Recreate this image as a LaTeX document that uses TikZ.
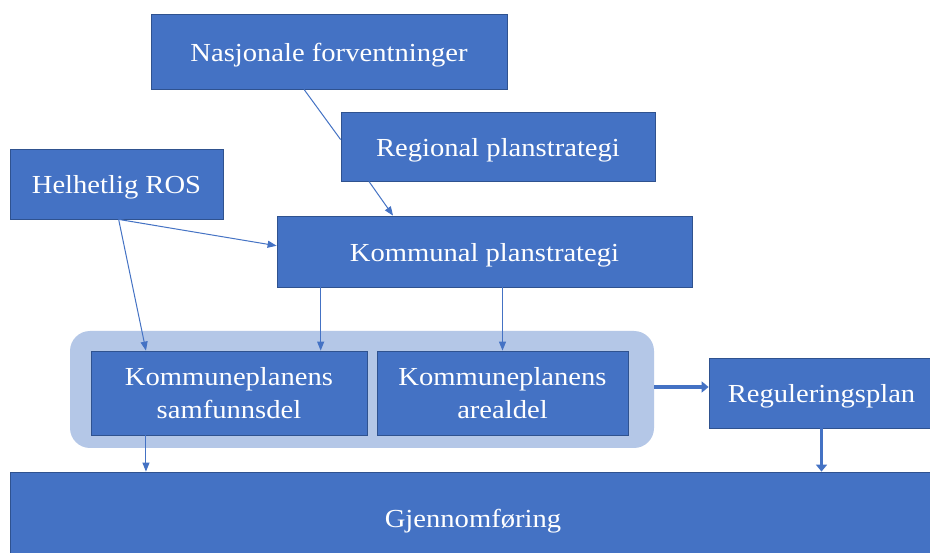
\documentclass[tikz,border=0pt]{standalone}
\usepackage{fontspec}
\setmainfont{Liberation Serif}[FakeStretch=1.1]
\usetikzlibrary{arrows.meta,calc}
\definecolor{boxblue}{HTML}{4472C4}
\definecolor{boxedge}{HTML}{2F528F}
\definecolor{groupblue}{HTML}{B4C7E7}

\begin{document}
\begin{tikzpicture}[x=1pt,y=-1pt,
  box/.style={draw=boxedge, line width=0.8pt, fill=boxblue, text=white,
    font=\fontsize{26}{33}\selectfont, align=center, inner sep=0pt},
  oneline/.style={box, text height=25pt, text depth=5pt},
  group/.style={fill=groupblue, draw=none, rounded corners=20pt, inner sep=0pt},
  plain/.style={draw=boxblue, line width=1pt},
  link/.style={plain, -{Triangle[length=9pt,width=7pt]}},
  flow/.style={draw=boxblue, line width=3.5pt, -{Triangle[length=7pt,width=11pt]}}]

\useasboundingbox (0,0) rectangle (930,553);
\clip (0,0) rectangle (930,553);
\fill[white] (0,0) rectangle (930,553);

% planning group background
\node[group, minimum width=584pt, minimum height=117pt] (grp) at (362,389.5) {};

% boxes
\node[oneline, minimum width=356pt, minimum height=75pt] (nat)  at (329,51.5)  {Nasjonale forventninger};
\node[oneline, minimum width=314pt, minimum height=69pt] (reg)  at (498,146.5) {Regional planstrategi};
\node[oneline, minimum width=213pt, minimum height=70pt] (ros)  at (116.5,184) {Helhetlig ROS};
\node[oneline, minimum width=415pt, minimum height=71pt] (kom)  at (484.5,251.5) {Kommunal planstrategi};
\node[box, minimum width=276pt, minimum height=84pt] (samf) at (229,393)   {Kommuneplanens\\samfunnsdel};
\node[box, minimum width=251pt, minimum height=84pt] (are)  at (502.5,393) {Kommuneplanens\\arealdel};
\node[oneline, minimum width=225pt, minimum height=70pt] (regp) at (821.5,393) {Reguleringsplan};
\node[oneline, minimum width=926pt, minimum height=90pt] (gj)   at (473,517)   {Gjennomføring};

% anchor points along box edges
\coordinate (n1) at ($(nat.south west)!0.43!(nat.south east)$);
\coordinate (r1) at ($(reg.north west)!0.4!(reg.south west)$);
\coordinate (r2) at ($(reg.south west)!0.09!(reg.south east)$);
\coordinate (k1) at ($(kom.north west)!0.28!(kom.north east)$);
\coordinate (k2) at ($(kom.north west)!0.42!(kom.south west)$);
\coordinate (k3) at ($(kom.south west)!0.106!(kom.south east)$);
\coordinate (h1) at ($(ros.south west)!0.51!(ros.south east)$);
\coordinate (s1) at ($(samf.north west)!0.2!(samf.north east)$);
\coordinate (g1) at ($(grp.east)+(0,-2.5)$);

% connectors
\draw[plain] (n1) -- (r1);
\draw[link] (r2) -- (k1);
\draw[link] (h1) -- (k2);
\draw[link] (h1) -- (s1);
\draw[link] (k3) -- (k3 |- samf.north);
\draw[link] (kom.south -| are.north) -- (are.north);
\draw[link] (s1 |- samf.south) -- (s1 |- gj.north);
\draw[flow] (g1) -- (g1 -| regp.west);
\draw[flow] (regp.south) -- (regp.south |- gj.north);
\end{tikzpicture}
\end{document}
